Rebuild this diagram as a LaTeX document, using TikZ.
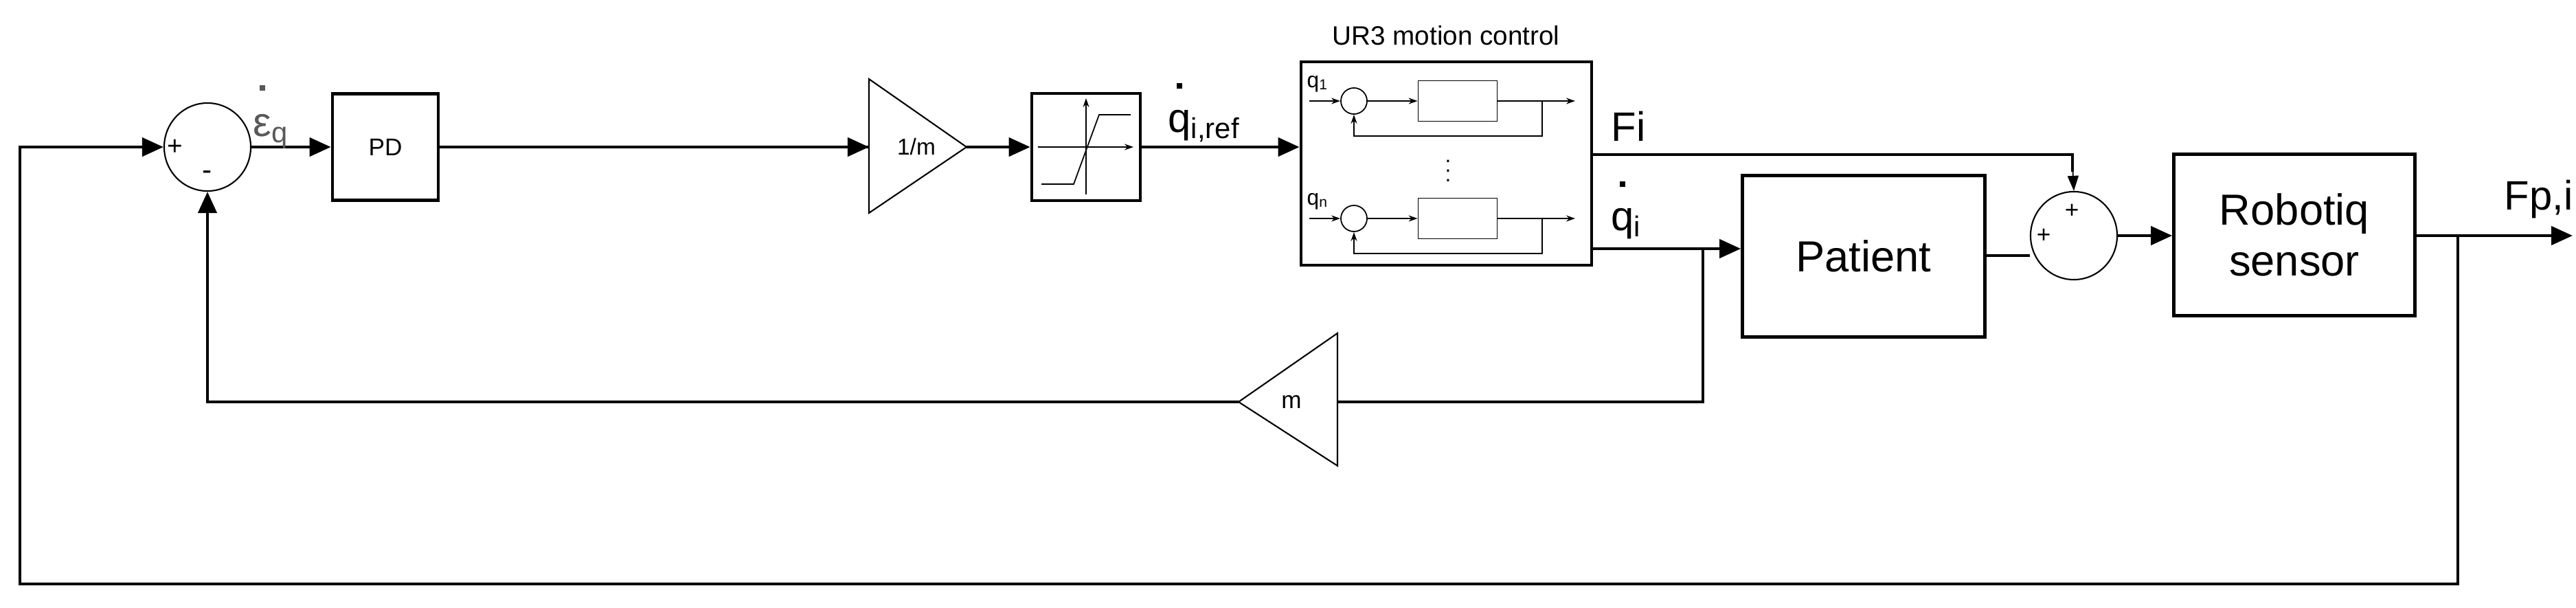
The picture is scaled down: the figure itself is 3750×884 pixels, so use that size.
\documentclass[tikz,border=0pt]{standalone}
\usepackage{fontspec}
\setmainfont{Liberation Sans}
\usetikzlibrary{arrows.meta,shapes.geometric}
\newcommand\dotabove[2][1.05em]{\ooalign{\hidewidth\raisebox{#1}{\rule{0.13em}{0.13em}}\hidewidth\cr #2\cr}}
\begin{document}
\begin{tikzpicture}[x=0.01cm,y=-0.01cm,
  thick line/.style={line width=1.3pt},
  big/.style={thick line,-{Triangle[length=0.31cm,width=0.27cm]}},
  thin line/.style={line width=0.5pt},
  small/.style={thin line,-{Stealth[length=0.13cm,width=0.09cm]}},
  blk/.style={draw,line width=1.3pt,inner sep=0pt},
  sum/.style={draw,line width=0.6pt,ellipse,minimum width=1.26cm,minimum height=1.28cm,inner sep=0pt},
  gain/.style={draw,line width=0.6pt},
  lbl/.style={inner sep=0pt,font=\fontsize{17pt}{19pt}\selectfont}]
\useasboundingbox (0,0) rectangle (3750,884);
% blocks
\node[sum] (s1) at (302,214) {};
\node[font=\fontsize{11pt}{12pt}\selectfont] at (255,214) {+};
\node[font=\fontsize{12pt}{12pt}\selectfont] at (302,255) {-};
\node[blk,minimum width=1.54cm,minimum height=1.55cm,font=\fontsize{10pt}{12pt}\selectfont] (pd) at (561,214) {PD};
\draw[gain] (1265,115) -- (1407,214) -- (1265,310) -- cycle;
\coordinate (gin) at (1265,214); \coordinate (gout) at (1407,214);
\node[font=\fontsize{9.5pt}{12pt}\selectfont] (gt) at (1334,214) {1/m};
\node[blk,minimum width=1.58cm,minimum height=1.56cm] (sat) at (1581,214) {};
\draw[small] (1511,214) -- (1650,214);
\draw[small] (1581,283) -- (1581,143);
\draw[thin line] (1516,268) -- (1563,268) -- (1600,167) -- (1646,167);
\node[lbl,anchor=base west] at (1700,192) {\dotabove{q}\textsubscript{i,ref}};
% UR3
\node[blk,minimum width=4.23cm,minimum height=2.96cm] (ur) at (2105.5,238) {};
\node[font=\fontsize{11pt}{12pt}\selectfont] at (2105,52) {UR3 motion control};
\foreach \yy/\lab/\nm in {147/1/a,318/n/b}{
  \node[font=\fontsize{9pt}{9pt}\selectfont,anchor=base west,inner sep=0pt] at (1902,\yy-20) {q\textsubscript{\lab}};
  \node[draw,thin line,circle,minimum size=0.38cm,inner sep=0pt] (c\nm) at (1971,\yy) {};
  \node[draw,thin line,minimum width=1.15cm,minimum height=0.59cm,inner sep=0pt] (b\nm) at (2122,\yy) {};
  \coordinate (i\nm) at (1906,\yy); \coordinate (o\nm) at (2293,\yy); \coordinate (k\nm) at (2245,\yy);
  \draw[small] (i\nm) -- (c\nm);
  \draw[small] (c\nm) -- (b\nm);
  \draw[small] (b\nm) -- (o\nm);
  \draw[small] (k\nm) -- (2245,\yy+51) -| (c\nm.south);
}
\node[font=\fontsize{9pt}{9pt}\selectfont] at (2108,238) {\vdots};
\node[lbl,anchor=base west] at (2345,205) {Fi};
\node[lbl,anchor=base west] at (2345,335) {\dotabove{q}\textsubscript{i}};
% right part
\node[blk,minimum width=3.53cm,minimum height=2.35cm,font=\fontsize{18pt}{20pt}\selectfont] (pat) at (2713,373) {Patient};
\node[sum] (s2) at (3019,343) {};
\node[font=\fontsize{10pt}{12pt}\selectfont] at (3016,307) {+};
\node[font=\fontsize{10pt}{12pt}\selectfont] at (2975,343) {+};
\node[blk,minimum width=3.51cm,minimum height=2.35cm,align=center,font=\fontsize{18pt}{21pt}\selectfont] (rob) at (3340,342) {Robotiq\\sensor};
\node[lbl,anchor=base west] at (3645,305) {Fp,i};
\coordinate (out) at (3745,343);
\coordinate (br1) at (3578,343);
\coordinate (br2) at (2479,362);
% connections
\draw[big] (s1) -- (pd);
\draw[thick line] (pd.east) -- (gin) ;
\draw[big] (1230,214) -- (gin);
\draw[big] (gout) -- (sat);
\draw[big] (sat) -- (ur.west|-sat);
\draw[thick line] (ur.east|-0,225) -| (3017,250);
\draw[thin line,-{Triangle[length=0.22cm,width=0.16cm]}] (3017,240) -- (s2.north);
\draw[big] (ur.east|-0,362) -- (pat.west|-0,362);
\draw[thick line] (pat.east|-0,372) -- (s2.west|-0,372);
\draw[big] (s2) -- (rob.west|-s2);
\draw[big] (rob.east|-0,343) -- (out);
% feedback loops
\draw[thick line] (br2) -- (2479,585) -- (1947,585);
\draw[gain] (1947,485) -- (1803,585) -- (1947,678) -- cycle;
\node[font=\fontsize{10pt}{12pt}\selectfont] (mt) at (1880,585) {m};
\draw[big] (1803,585) -- (302,585) -- (s1.south);
\draw[big] (br1) -- (3578,850) -- (29,850) -- (29,214) -- (s1.west);
\node[lbl,text=black!65,anchor=base west] at (368,198) {\dotabove[1.1em]{ε}\textsubscript{q}};
\end{tikzpicture}
\end{document}
